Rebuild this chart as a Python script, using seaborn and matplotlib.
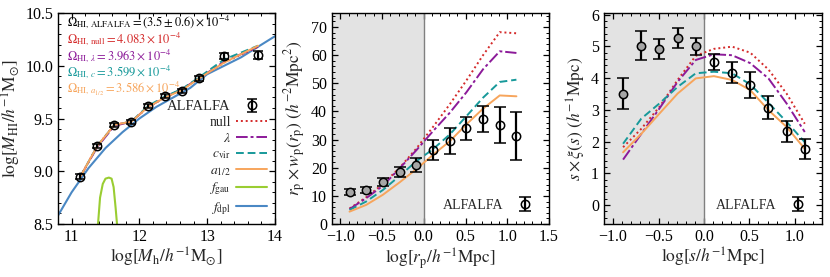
import matplotlib
matplotlib.use("Agg")
import matplotlib.pyplot as plt
import numpy as np
import pandas as pd
import seaborn as sns
from matplotlib.ticker import AutoMinorLocator

sns.set_theme(style="ticks")
plt.rcParams["font.family"] = ["Liberation Serif", "DejaVu Serif"]
plt.rcParams["mathtext.fontset"] = "stix"
plt.rcParams["axes.linewidth"] = 1.0

# HI-halo mass relation
mh_obs = [11.13, 11.38, 11.63, 11.88, 12.13, 12.38, 12.63, 12.88, 13.25, 13.75]
mhi_obs = [8.95, 9.24, 9.44, 9.47, 9.62, 9.71, 9.76, 9.88, 10.09, 10.10]
mhi_err = [0.02, 0.02, 0.02, 0.02, 0.02, 0.02, 0.02, 0.02, 0.03, 0.04]
mhi_null = [8.95, 9.24, 9.44, 9.47, 9.61, 9.70, 9.78, 9.88, 10.03, 10.18]
mhi_lam = [8.95, 9.23, 9.43, 9.47, 9.61, 9.70, 9.78, 9.88, 10.04, 10.18]
mhi_cvir = [8.95, 9.24, 9.44, 9.47, 9.62, 9.71, 9.78, 9.89, 10.06, 10.19]
mhi_a12 = [8.95, 9.24, 9.44, 9.47, 9.61, 9.70, 9.77, 9.88, 10.03, 10.19]
mh_gau = [11.39, 11.42, 11.46, 11.50, 11.55, 11.59, 11.62, 11.65, 11.67]
mhi_gau = [8.50, 8.75, 8.88, 8.93, 8.94, 8.93, 8.85, 8.65, 8.50]
mh_dpl = [10.8, 11.0, 11.25, 11.5, 11.75, 12.0, 12.25, 12.5, 12.75, 13.0, 13.25, 13.5, 13.75, 14.0]
mhi_dpl = [8.58, 8.80, 9.03, 9.22, 9.37, 9.50, 9.61, 9.70, 9.79, 9.92, 10.00, 10.08, 10.18, 10.28]

omega_text = [
    r"$\Omega_{\rm HI,\,ALFALFA}=(3.5\pm0.6)\times10^{-4}$",
    r"$\Omega_{\rm HI,\,null}=4.083\times10^{-4}$",
    r"$\Omega_{{\rm HI},\,\lambda}=3.963\times10^{-4}$",
    r"$\Omega_{{\rm HI},\,c}=3.599\times10^{-4}$",
    r"$\Omega_{{\rm HI},\,a_{1/2}}=3.586\times10^{-4}$",
]

# projected and redshift-space clustering
r_x = [-0.89, -0.69, -0.49, -0.29, -0.09, 0.11, 0.31, 0.51, 0.71, 0.91, 1.11]
wp_obs = [11.4, 12.1, 14.8, 18.5, 21.1, 26.4, 29.6, 34.0, 37.4, 35.2, 31.4]
wp_err = [1.0, 1.0, 1.4, 1.8, 2.5, 3.5, 4.6, 4.2, 4.6, 6.4, 8.5]
wp_null = [5.5, 9.5, 14.2, 20.0, 26.8, 34.5, 42.5, 51.0, 60.0, 68.2, 67.8]
wp_lam = [5.3, 9.2, 13.6, 19.8, 26.2, 33.0, 39.5, 46.8, 55.0, 61.4, 60.8]
wp_cvir = [5.0, 8.0, 12.1, 17.1, 22.3, 26.6, 31.8, 38.3, 44.9, 50.5, 51.3]
wp_a12 = [4.4, 6.8, 10.4, 14.8, 19.5, 24.6, 29.4, 35.4, 41.0, 45.7, 45.4]

xi_obs = [3.51, 5.02, 4.91, 5.26, 5.00, 4.51, 4.17, 3.77, 3.07, 2.32, 1.77]
xi_err = [0.49, 0.45, 0.32, 0.31, 0.26, 0.25, 0.33, 0.41, 0.37, 0.33, 0.31]
xi_null = [1.82, 2.40, 3.09, 3.94, 4.70, 4.92, 4.99, 4.80, 4.27, 3.51, 2.56]
xi_lam = [1.43, 2.24, 3.04, 3.88, 4.57, 4.75, 4.72, 4.47, 3.99, 3.20, 2.30]
xi_cvir = [1.93, 2.72, 3.20, 3.72, 4.15, 4.20, 4.15, 3.80, 3.22, 2.62, 1.98]
xi_a12 = [1.66, 2.24, 2.88, 3.51, 3.99, 4.06, 3.94, 3.62, 2.99, 2.46, 1.77]

c_null = "#d42a2a"
c_lam = "#8c1a99"
c_cvir = "#17999a"
c_a12 = "#f7a55c"
c_gau = "#9acd32"
c_dpl = "#4a88c4"

styles = {
    "null": dict(color=c_null, linestyle=(0, (1, 1.5))),
    "lam": dict(color=c_lam, linestyle=(0, (6, 1.5, 1.5, 1.5))),
    "cvir": dict(color=c_cvir, linestyle=(0, (4, 2))),
    "a12": dict(color=c_a12, linestyle="-"),
}


def style_axes(ax):
    ax.xaxis.set_minor_locator(AutoMinorLocator())
    ax.yaxis.set_minor_locator(AutoMinorLocator())
    ax.tick_params(which="both", direction="in", top=True, right=True,
                   labelsize=11.5, colors="black")
    ax.tick_params(which="major", length=4.5, width=0.9)
    ax.tick_params(which="minor", length=2.5, width=0.7)
    for sp in ax.spines.values():
        sp.set_color("black")


def errpoints(ax, x, y, err, fill="none", ms=6, cap=4):
    return ax.errorbar(x, y, yerr=err, fmt="o", mfc=fill, mec="black",
                       ms=ms, mew=1.1, ecolor="black", elinewidth=1.6,
                       capsize=cap, capthick=1.6, zorder=5)


fig = plt.figure(figsize=(8.3, 2.77), dpi=100)
ax1 = fig.add_axes([0.0699, 0.1913, 0.2614, 0.7617])
ax2 = fig.add_axes([0.4000, 0.1913, 0.2614, 0.7617])
ax3 = fig.add_axes([0.7277, 0.1913, 0.2627, 0.7617])

# ---- panel 1
sns.lineplot(x=mh_dpl, y=mhi_dpl, ax=ax1, color=c_dpl, lw=1.5, sort=False, zorder=2)
h_dpl = ax1.lines[-1]
sns.lineplot(x=mh_gau, y=mhi_gau, ax=ax1, color=c_gau, lw=1.5, sort=False, zorder=2)
h_gau = ax1.lines[-1]
handles = {}
for key, vals in [("null", mhi_null), ("lam", mhi_lam), ("cvir", mhi_cvir), ("a12", mhi_a12)]:
    sns.lineplot(x=mh_obs, y=vals, ax=ax1, lw=1.4, sort=False, zorder=3, **styles[key])
    handles[key] = ax1.lines[-1]
obs1 = errpoints(ax1, mh_obs, mhi_obs, mhi_err, ms=6, cap=3.8)

ax1.set_xlim(10.8, 14)
ax1.set_ylim(8.5, 10.5)
ax1.set_xticks([11, 12, 13, 14])
ax1.set_yticks([8.5, 9.0, 9.5, 10.0, 10.5])
ax1.set_xlabel(r"$\log[M_{\rm h}/h^{-1}{\rm M}_{\odot}]$", fontsize=12.5, labelpad=1)
ax1.set_ylabel(r"$\log[M_{\rm HI}/h^{-1}{\rm M}_{\odot}]$", fontsize=12.5, labelpad=2)
style_axes(ax1)

for i, (txt, col) in enumerate(zip(omega_text, ["black", c_null, c_lam, c_cvir, c_a12])):
    ax1.text(0.04, 0.955 - i * 0.079, txt, color=col, fontsize=9,
             transform=ax1.transAxes, va="center", ha="left")

ax1.legend([obs1, handles["null"], handles["lam"], handles["cvir"], handles["a12"], h_gau, h_dpl],
           ["ALFALFA", "null", r"$\lambda$", r"$c_{\rm vir}$", r"$a_{1/2}$",
            r"$f_{\rm gau}$", r"$f_{\rm dpl}$"],
           loc="lower right", frameon=False, markerfirst=False, fontsize=9.8,
           handlelength=2.3, labelspacing=0.2, borderaxespad=0.15, handletextpad=0.4)
ax1.get_legend().get_texts()[0].set_fontsize(10.5)

# ---- panels 2 and 3
r_x = np.array(r_x)
inner = r_x < 0


def clustering_panel(ax, obs, err, models, xlim, ylim, yticks, ylabel, xlabel, cap):
    ax.axvspan(xlim[0], 0, color="#e3e3e3", zorder=0, lw=0)
    ax.axvline(0, color="#808080", lw=1.0, zorder=1)
    for key, vals in models:
        sns.lineplot(x=r_x, y=vals, ax=ax, lw=1.4, sort=False, zorder=3, **styles[key])
    obs = np.array(obs)
    err = np.array(err)
    errpoints(ax, r_x[inner], obs[inner], err[inner], fill="#a6a6a6", cap=cap)
    h = errpoints(ax, r_x[~inner], obs[~inner], err[~inner], fill="none", cap=cap)
    ax.set_xlim(*xlim)
    ax.set_ylim(*ylim)
    ax.set_yticks(yticks)
    ax.set_xlabel(xlabel, fontsize=12.5, labelpad=1)
    ax.set_ylabel(ylabel, fontsize=12.5, labelpad=2)
    style_axes(ax)
    ax.legend([h], ["ALFALFA"], loc="lower right", frameon=False, markerfirst=False,
              fontsize=10, handlelength=1.6, borderaxespad=0.5, handletextpad=0.8)


clustering_panel(ax2, wp_obs, wp_err,
                 [("null", wp_null), ("lam", wp_lam), ("cvir", wp_cvir), ("a12", wp_a12)],
                 (-1.1, 1.5), (0, 75), [0, 10, 20, 30, 40, 50, 60, 70],
                 r"$r_{\rm p}\times w_{\rm p}(r_{\rm p})\ (h^{-2}{\rm Mpc}^{2})$",
                 r"$\log[r_{\rm p}/h^{-1}{\rm Mpc}]$", 4.5)
ax2.set_xticks([-1.0, -0.5, 0.0, 0.5, 1.0, 1.5])

clustering_panel(ax3, xi_obs, xi_err,
                 [("null", xi_null), ("lam", xi_lam), ("cvir", xi_cvir), ("a12", xi_a12)],
                 (-1.1, 1.3), (-0.6, 6.05), [0, 1, 2, 3, 4, 5, 6],
                 r"$s\times\xi(s)\ (h^{-1}{\rm Mpc})$",
                 r"$\log[s/h^{-1}{\rm Mpc}]$", 4.5)
ax3.set_xticks([-1.0, -0.5, 0.0, 0.5, 1.0])

fig.savefig("out.png", dpi=100)
